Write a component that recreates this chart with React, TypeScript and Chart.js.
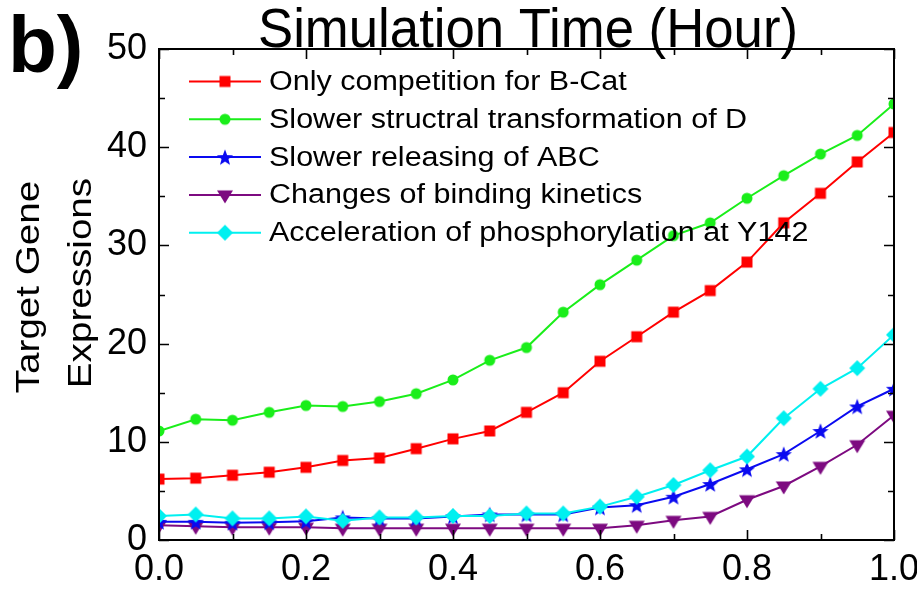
import React, { useEffect, useRef } from "react";
import { Chart, registerables } from "chart.js";

Chart.register(...registerables);

const times = [0, 0.05, 0.1, 0.15, 0.2, 0.25, 0.3, 0.35, 0.4, 0.45, 0.5, 0.55, 0.6, 0.65, 0.7, 0.75, 0.8, 0.85, 0.9, 0.95, 1.0];
const onlyCompetition = [6.2, 6.3, 6.6, 6.9, 7.4, 8.1, 8.35, 9.3, 10.3, 11.1, 13.0, 15.0, 18.2, 20.7, 23.2, 25.4, 28.3, 32.3, 35.3, 38.5, 41.5];
const slowerStructural = [11.1, 12.3, 12.2, 13.0, 13.7, 13.6, 14.1, 14.9, 16.3, 18.3, 19.6, 23.2, 26.0, 28.5, 31.0, 32.3, 34.8, 37.1, 39.3, 41.2, 44.4];
const slowerReleasing = [1.85, 1.85, 1.75, 1.8, 1.9, 2.3, 2.2, 2.2, 2.4, 2.6, 2.6, 2.6, 3.3, 3.55, 4.4, 5.7, 7.2, 8.75, 11.1, 13.6, 15.4];
const bindingKinetics = [1.5, 1.4, 1.3, 1.3, 1.3, 1.2, 1.2, 1.2, 1.2, 1.2, 1.2, 1.2, 1.2, 1.5, 2.0, 2.4, 4.1, 5.5, 7.5, 9.7, 12.7];
const phosphorylation = [2.45, 2.6, 2.2, 2.2, 2.4, 1.95, 2.3, 2.3, 2.45, 2.45, 2.7, 2.7, 3.4, 4.4, 5.6, 7.1, 8.5, 12.4, 15.4, 17.5, 20.9];

const seriesLabels = [
  "Only competition for B-Cat",
  "Slower structral transformation of D",
  "Slower releasing of ABC",
  "Changes of binding kinetics",
  "Acceleration of phosphorylation at Y142",
];
const seriesColors = ["#ff0000", "#1aee1a", "#0a0af0", "#7d0a80", "#00f0f0"];
const seriesMarkers = ["square", "circle", "star", "triangleDown", "diamond"];

const xTickStep = 0.2;
const yTickStep = 10;
const titleText = "Simulation Time (Hour)";
const yTitleLines = ["Target Gene", "Expressions"];
const panelLabel = "b)";

const FONT = "'Liberation Sans', Arial, Helvetica, sans-serif";

function makeMarker(kind: string, color: string): HTMLCanvasElement {
  const size = 20;
  const c = document.createElement("canvas");
  c.width = size;
  c.height = size;
  const ctx = c.getContext("2d")!;
  const cx = size / 2;
  const cy = size / 2;
  ctx.fillStyle = color;
  ctx.beginPath();
  if (kind === "square") {
    ctx.rect(cx - 5.5, cy - 5.5, 11, 11);
  } else if (kind === "circle") {
    ctx.arc(cx, cy, 5.5, 0, Math.PI * 2);
  } else if (kind === "star") {
    const R = 8.5;
    const r = 3.6;
    for (let i = 0; i < 10; i++) {
      const ang = -Math.PI / 2 + (i * Math.PI) / 5;
      const rr = i % 2 === 0 ? R : r;
      const px = cx + Math.cos(ang) * rr;
      const py = cy + Math.sin(ang) * rr + 0.8;
      if (i === 0) ctx.moveTo(px, py);
      else ctx.lineTo(px, py);
    }
    ctx.closePath();
  } else if (kind === "triangleDown") {
    ctx.moveTo(cx - 8, cy - 4.5);
    ctx.lineTo(cx + 8, cy - 4.5);
    ctx.lineTo(cx, cy + 8.5);
    ctx.closePath();
  } else if (kind === "diamond") {
    ctx.moveTo(cx, cy - 8);
    ctx.lineTo(cx + 8, cy);
    ctx.lineTo(cx, cy + 8);
    ctx.lineTo(cx - 8, cy);
    ctx.closePath();
  }
  ctx.fill();
  return c;
}

export default function App() {
  const canvasRef = useRef<HTMLCanvasElement | null>(null);

  useEffect(() => {
    document.body.style.margin = "0";
    const canvas = canvasRef.current;
    if (!canvas) return;

    const markers = seriesMarkers.map((m, i) => makeMarker(m, seriesColors[i]));
    const seriesValues = [onlyCompetition, slowerStructural, slowerReleasing, bindingKinetics, phosphorylation];

    const datasets = seriesValues.map((vals, i) => ({
      label: seriesLabels[i],
      data: times.map((t, k) => ({ x: t, y: vals[k] })),
      borderColor: seriesColors[i],
      backgroundColor: seriesColors[i],
      borderWidth: 2,
      pointStyle: markers[i] as any,
      pointRadius: 8,
      pointHoverRadius: 8,
      tension: 0,
      order: i === 4 ? -1 : i,
    }));

    const framePlugin = {
      id: "frameAndText",
      afterDraw(chart: any) {
        const ctx = chart.ctx as CanvasRenderingContext2D;
        const { left, right, top, bottom } = chart.chartArea;
        const xs = chart.scales.x;
        const ys = chart.scales.y;
        ctx.save();
        ctx.strokeStyle = "#000";
        ctx.lineWidth = 2;
        ctx.strokeRect(left, top, right - left, bottom - top);
        ctx.lineWidth = 1.6;
        ctx.beginPath();
        for (let k = 0; k <= 10; k++) {
          const v = k * 0.1;
          const px = Math.round(xs.getPixelForValue(v)) + 0.5;
          const len = k % 2 === 0 ? 10 : 6;
          ctx.moveTo(px, bottom);
          ctx.lineTo(px, bottom - len);
          ctx.moveTo(px, top);
          ctx.lineTo(px, top + len);
        }
        for (let k = 0; k <= 10; k++) {
          const v = k * 5;
          const py = Math.round(ys.getPixelForValue(v)) + 0.5;
          const len = k % 2 === 0 ? 10 : 6;
          ctx.moveTo(left, py);
          ctx.lineTo(left + len, py);
          ctx.moveTo(right, py);
          ctx.lineTo(right - len, py);
        }
        ctx.stroke();

        // legend inside plot
        chart.data.datasets.forEach((ds: any, i: number) => {
          const y = 81.5 + i * 37.8;
          ctx.strokeStyle = ds.borderColor;
          ctx.lineWidth = 2;
          ctx.beginPath();
          ctx.moveTo(189, y);
          ctx.lineTo(261, y);
          ctx.stroke();
          const img = ds.pointStyle as HTMLCanvasElement;
          ctx.drawImage(img, 225 - img.width / 2, y - img.height / 2);
          ctx.save();
          ctx.translate(269, y + 1);
          ctx.scale(1.13, 1);
          ctx.font = `27px ${FONT}`;
          ctx.textBaseline = "middle";
          ctx.textAlign = "left";
          ctx.fillStyle = "#000";
          ctx.fillText(ds.label, 0, 0);
          ctx.restore();
        });

        // panel label
        ctx.fillStyle = "#000";
        ctx.textBaseline = "alphabetic";
        ctx.font = `bold 80px ${FONT}`;
        ctx.textAlign = "left";
        ctx.fillText(panelLabel, 8, 72);

        // title
        ctx.font = `56px ${FONT}`;
        ctx.textAlign = "center";
        ctx.fillText(titleText, 528, 47, 540);

        // y axis title
        const yCenters = [287, 283];
        const yBase = [39, 91];
        yTitleLines.forEach((line, i) => {
          ctx.save();
          ctx.translate(yBase[i], yCenters[i]);
          ctx.rotate(-Math.PI / 2);
          ctx.scale(1.17, 1);
          ctx.font = `33px ${FONT}`;
          ctx.textAlign = "center";
          ctx.textBaseline = "alphabetic";
          ctx.fillText(line, 0, 0);
          ctx.restore();
        });
        ctx.restore();
      },
    };

    const chart = new Chart(canvas, {
      type: "line",
      data: { datasets },
      options: {
        animation: false,
        responsive: false,
        maintainAspectRatio: false,
        layout: { padding: { top: 49, right: 23, left: 0, bottom: 0 } },
        plugins: {
          legend: { display: false },
          title: { display: false },
          tooltip: { enabled: false },
        },
        scales: {
          x: {
            type: "linear",
            min: 0,
            max: 1,
            grid: { display: false, drawTicks: false },
            border: { display: false },
            ticks: {
              stepSize: xTickStep,
              color: "#000",
              font: { family: FONT, size: 36 },
              padding: 8,
              maxRotation: 0,
              callback: (v: any) => Number(v).toFixed(1),
            },
            afterFit: (scale: any) => {
              scale.height = 49;
              scale.paddingLeft = 0;
              scale.paddingRight = 0;
            },
          },
          y: {
            type: "linear",
            min: 0,
            max: 50,
            grid: { display: false, drawTicks: false },
            border: { display: false },
            ticks: {
              stepSize: yTickStep,
              color: "#000",
              font: { family: FONT, size: 36 },
              padding: 12,
            },
            afterFit: (scale: any) => {
              scale.width = 159;
              scale.paddingTop = 0;
              scale.paddingBottom = 0;
            },
          },
        },
      },
      plugins: [framePlugin],
    });

    return () => {
      chart.destroy();
    };
  }, []);

  return (
    <div style={{ width: 917, height: 589, background: "#fff" }}>
      <canvas ref={canvasRef} width={917} height={589} style={{ display: "block" }} />
    </div>
  );
}
